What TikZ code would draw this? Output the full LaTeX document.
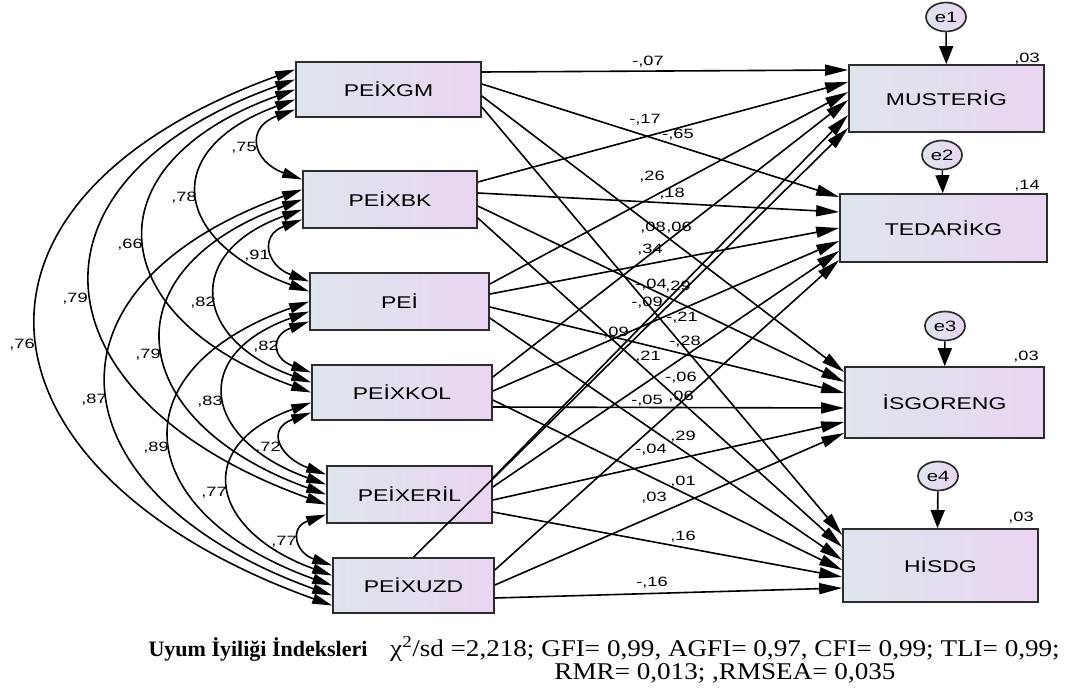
\documentclass[tikz,border=0pt]{standalone}
\usepackage{fontspec}
\setmainfont{Liberation Sans}
\newfontfamily\amos[FakeStretch=1.35]{Liberation Sans}
\newfontfamily\amosserif[FakeStretch=1.13]{Liberation Serif}
\newfontfamily\amosbold{Liberation Serif}
\usetikzlibrary{arrows.meta,shapes.geometric,calc}
\definecolor{boxL}{RGB}{222,229,236}
\definecolor{boxR}{RGB}{234,213,242}
\definecolor{bord}{RGB}{45,45,45}
\tikzset{
  obs/.style={rectangle, draw=bord, line width=1.7pt, left color=boxL, right color=boxR, inner sep=0pt, font=\amos\fontsize{17}{20}\selectfont},
  err/.style={ellipse, draw=bord, line width=1.7pt, left color=boxL, right color=boxR, minimum width=40pt, minimum height=29pt, inner sep=0pt, font=\amos\fontsize{15}{18}\selectfont},
  num/.style={font=\amos\fontsize{13.5}{15}\selectfont, inner sep=0pt},
  reg/.style={line width=1.6pt, -{Triangle[length=23pt,width=11pt]}},
  cov/.style={line width=1.6pt, {Triangle[length=20pt,width=10pt]}-{Triangle[length=20pt,width=10pt]}},
  vtip/.style={line width=1.6pt, -{Triangle[length=18pt,width=14pt]}},
}
\begin{document}
\begin{tikzpicture}[x=1pt,y=-1pt]
\useasboundingbox (0,0) rectangle (1081,698);
% exogenous boxes
\node[obs, minimum width=185pt, minimum height=55pt] (b1) at (388.5,89.5) {PEİXGM};
\node[obs, minimum width=174pt, minimum height=57pt] (b2) at (390,199.5) {PEİXBK};
\node[obs, minimum width=179pt, minimum height=57pt] (b3) at (399.5,301.5) {PEİ};
\node[obs, minimum width=180pt, minimum height=55pt] (b4) at (402,392.5) {PEİXKOL};
\node[obs, minimum width=165pt, minimum height=57pt] (b5) at (409.5,494.5) {PEİXERİL};
\node[obs, minimum width=161pt, minimum height=55pt] (b6) at (413.5,585.5) {PEİXUZD};
% endogenous boxes
\node[obs, minimum width=195pt, minimum height=67pt] (m) at (946.5,98.5) {MUSTERİG};
\node[obs, minimum width=207pt, minimum height=68pt] (t) at (943.5,228) {TEDARİKG};
\node[obs, minimum width=199pt, minimum height=71pt] (i) at (944.5,402.5) {İSGORENG};
\node[obs, minimum width=195pt, minimum height=73pt] (h) at (940.5,565.5) {HİSDG};
% errors
\node[err] (e1) at (946,17) {e1};
\node[err] (e2) at (942,155) {e2};
\node[err] (e3) at (945,326) {e3};
\node[err] (e4) at (938,476) {e4};
\draw[vtip] (e1) -- (m);
\draw[vtip] (e2) -- (t);
\draw[vtip] (e3) -- (i);
\draw[vtip] (e4) -- ([xshift=-3pt]h.north);
% variances
\node[num] (v1) at (1027,59) {,03};
\node[num] (v2) at (1027,186) {,14};
\node[num] (v3) at (1026,357) {,03};
\node[num] (v4) at (1021,518) {,03};
% covariances
\draw[cov] ($(b1.west)+(0,20)$) .. controls +(-50,18) and +(-50,-18) .. ($(b2.west)+(0,-20)$);
\draw[cov] ($(b2.west)+(0,20)$) .. controls +(-43,16) and +(-43,-16) .. ($(b3.west)+(0,-20)$);
\draw[cov] ($(b3.west)+(0,20)$) .. controls +(-39,14) and +(-39,-14) .. ($(b4.west)+(0,-20)$);
\draw[cov] ($(b4.west)+(0,20)$) .. controls +(-46,17) and +(-46,-17) .. ($(b5.west)+(0,-20)$);
\draw[cov] ($(b5.west)+(0,20)$) .. controls +(-37,13) and +(-37,-13) .. ($(b6.west)+(0,-20)$);
\draw[cov] ($(b1.west)+(0,10)$) .. controls +(-137,50) and +(-137,-50) .. ($(b3.west)+(0,-10)$);
\draw[cov] ($(b2.west)+(0,10)$) .. controls +(-119,43) and +(-119,-43) .. ($(b4.west)+(0,-10)$);
\draw[cov] ($(b3.west)+(0,10)$) .. controls +(-122,44) and +(-122,-44) .. ($(b5.west)+(0,-10)$);
\draw[cov] ($(b4.west)+(0,10)$) .. controls +(-121,44) and +(-121,-44) .. ($(b6.west)+(0,-10)$);
\draw[cov] (b1.west) .. controls +(-209,75) and +(-209,-75) .. (b4.west);
\draw[cov] (b2.west) .. controls +(-200,72) and +(-200,-72) .. (b5.west);
\draw[cov] (b3.west) .. controls +(-198,71) and +(-198,-71) .. (b6.west);
\draw[cov] ($(b1.west)+(0,-10)$) .. controls +(-290,104) and +(-290,-104) .. ($(b5.west)+(0,10)$);
\draw[cov] ($(b2.west)+(0,-10)$) .. controls +(-277,100) and +(-277,-100) .. ($(b6.west)+(0,10)$);
\draw[cov] ($(b1.west)+(0,-20)$) .. controls +(-366,132) and +(-366,-132) .. ($(b6.west)+(0,20)$);
\node[num] (c12) at (244,148) {,75};
\node[num] (c23) at (257,256) {,91};
\node[num] (c34) at (266,347) {,82};
\node[num] (c45) at (268,448) {,72};
\node[num] (c56) at (284,542) {,77};
\node[num] (c13) at (184,198) {,78};
\node[num] (c24) at (203,303) {,82};
\node[num] (c35) at (210,402) {,83};
\node[num] (c46) at (214,493) {,77};
\node[num] (c14) at (130,245) {,66};
\node[num] (c25) at (148,355) {,79};
\node[num] (c36) at (156,448) {,89};
\node[num] (c15) at (75,299) {,79};
\node[num] (c26) at (94,400) {,87};
\node[num] (c16) at (22,345) {,76};
% regressions
\draw[reg] ($(b1.east)+(0,-17.5)$) -- ($(m.west)+(0,-28.5)$);
\draw[reg] ($(b1.east)+(0,-5.5)$) -- ($(t.west)+(0,-31)$);
\draw[reg] ($(b1.east)+(0,6.5)$) -- ($(i.west)+(0,-30.5)$);
\draw[reg] ($(b1.east)+(0,17.5)$) -- ($(h.west)+(0,-30.5)$);
\draw[reg] ($(b2.east)+(0,-17.5)$) -- ($(m.west)+(0,-16.5)$);
\draw[reg] ($(b2.east)+(0,-6.5)$) -- ($(t.west)+(0,-16)$);
\draw[reg] ($(b2.east)+(0,6.5)$) -- ($(i.west)+(0,-20.5)$);
\draw[reg] ($(b2.east)+(0,18.5)$) -- ($(h.west)+(0,-18.5)$);
\draw[reg] ($(b3.east)+(0,-17.5)$) -- ($(m.west)+(0,-6.5)$);
\draw[reg] ($(b3.east)+(0,-7.5)$) -- ($(t.west)+(0,0)$);
\draw[reg] ($(b3.east)+(0,5.5)$) -- ($(i.west)+(0,-9.5)$);
\draw[reg] ($(b3.east)+(0,16.5)$) -- ($(h.west)+(0,-5.5)$);
\draw[reg] ($(b4.east)+(0,-15.5)$) -- ($(m.west)+(0,1.5)$);
\draw[reg] ($(b4.east)+(0,-1.5)$) -- ($(t.west)+(0,13)$);
\draw[reg] ($(b4.east)+(0,14.5)$) -- ($(i.west)+(0,5.5)$);
\draw[reg] ($(b4.east)+(0,7.5)$) -- ($(h.west)+(0,4.5)$);
\draw[reg] ($(b5.east)+(0,-16.5)$) -- ($(m.west)+(0,16.5)$);
\draw[reg] ($(b5.east)+(0,-7.5)$) -- ($(t.west)+(0,23)$);
\draw[reg] ($(b5.east)+(0,5.5)$) -- ($(i.west)+(0,19.5)$);
\draw[reg] ($(b5.east)+(0,17.5)$) -- ($(h.west)+(0,11.5)$);
\draw[reg] (b6.north) -- ($(m.west)+(0,29.5)$);
\draw[reg] ($(b6.east)+(0,-15.5)$) -- ($(t.west)+(0,32)$);
\draw[reg] ($(b6.east)+(0,-0.5)$) -- ($(i.west)+(0,30.5)$);
\draw[reg] ($(b6.east)+(0,12.5)$) -- ($(h.west)+(0,22.5)$);
% regression labels
\node[num] (r1) at (648,62) {-,07};
\node[num] (r2) at (645,120) {-,17};
\node[num] (r3) at (678,135) {-,65};
\node[num] (r4) at (652,177) {,26};
\node[num] (r5) at (672,194) {,18};
\node[num] (r6) at (653,228) {,08};
\node[num] (r7) at (679,228) {,06};
\node[num] (r8) at (650,250) {,34};
\node[num] (r9) at (651,285) {-,04};
\node[num] (r10) at (678,287) {,29};
\node[num] (r11) at (647,303) {-,09};
\node[num] (r12) at (682,318) {-,21};
\node[num] (r13) at (616,333) {,09};
\node[num] (r14) at (685,342) {-,28};
\node[num] (r15) at (648,357) {,21};
\node[num] (r16) at (681,378) {-,06};
\node[num] (r17) at (647,401) {-,05};
\node[num] (r18) at (681,397) {,06};
\node[num] (r19) at (683,437) {,29};
\node[num] (r20) at (651,450) {-,04};
\node[num] (r21) at (683,482) {,01};
\node[num] (r22) at (654,498) {,03};
\node[num] (r23) at (683,537) {,16};
\node[num] (r24) at (652,583) {-,16};
% fit indices
\node[font=\amosbold\bfseries\fontsize{22}{25}\selectfont, inner sep=0pt] (fitlab) at (258,649) {Uyum İyiliği İndeksleri};
\node[font=\amosserif\fontsize{24}{23}\selectfont, align=center, inner sep=0pt] (fit) at (725,660) {χ\textsuperscript{2}/sd =2,218; GFI= 0,99, AGFI= 0,97, CFI= 0,99; TLI= 0,99;\\RMR= 0,013; ,RMSEA= 0,035};
\end{tikzpicture}
\end{document}
